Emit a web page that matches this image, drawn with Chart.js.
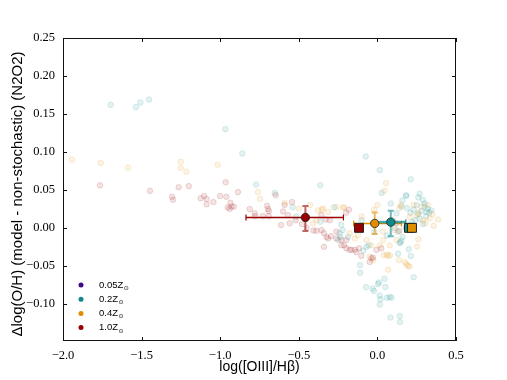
<!DOCTYPE html>
<html><head><meta charset="utf-8">
<script src="https://cdn.jsdelivr.net/npm/chart.js@4/dist/chart.umd.min.js"></script>
<style>html,body{margin:0;padding:0;background:#fff;}canvas{display:block;}</style>
</head><body>
<canvas id="c" width="507" height="380"></canvas>
<script>
// ---------- data ----------
const xTicks = [-2.0, -1.5, -1.0, -0.5, 0.0, 0.5];
const yTicks = [-0.10, -0.05, 0.00, 0.05, 0.10, 0.15, 0.20, 0.25];
const xRange = [-2.0, 0.5];
const yRange = [-0.149, 0.25];

const legendLabels = ['0.05', '0.2', '0.4', '1.0'];
const seriesColors = ['#3f0a8a', '#0e8a8a', '#e08e00', '#990000'];

// faded individual model points, [logOIII/Hb, dlog(O/H)]
const cloud02 = [
  [-1.697,0.162],[-1.536,0.159],[-1.508,0.165],[-1.453,0.169],[-0.967,0.130],[-0.859,0.098],
  [-0.772,0.057],[-0.653,0.046],[-0.539,0.027],[-0.518,0.0145],[-0.363,0.056],[-0.363,0.008],
  [-0.276,0.027],[-0.074,0.094],[0.015,0.076],[0.027,0.046],[0.085,0.032],[0.159,0.036],
  [0.182,0.042],[0.212,0.064],[0.269,0.045],[0.29,0.037],[0.188,0.026],[0.21,0.02],
  [0.23,0.024],[0.25,0.03],[0.26,0.018],[0.28,0.022],[0.30,0.028],[0.31,0.015],[0.32,0.025],
  [0.33,0.020],[0.27,0.012],[0.24,0.010],[0.22,0.008],[0.29,0.005],[0.30,0.032],[0.26,0.040],
  [0.343,0.023],[0.312,0.021],[0.184,0.043],[0.153,0.028],[0.121,0.019],
  [-0.24,-0.007],[-0.235,-0.012],[-0.25,-0.016],[-0.187,-0.012],[-0.07,-0.025],[-0.055,-0.023],
  [-0.09,-0.030],[0.153,-0.017],[0.16,-0.012],[0.145,-0.020],[0.13,-0.005],[0.142,-0.019],
  [0.131,-0.034],[0.199,-0.028],[0.212,-0.037],[0.231,-0.065],[-0.11,-0.049],[-0.11,-0.059],
  [-0.072,-0.078],[-0.022,-0.083],[-0.03,-0.080],[0.004,-0.074],[0.01,-0.072],[0.045,-0.067],
  [0.051,-0.078],[0.015,-0.089],[0.019,-0.094],[0.015,-0.101],[0.06,-0.092],[0.078,-0.091],
  [0.09,-0.092],[0.083,-0.118],[0.142,-0.116],[0.144,-0.124],[0.10,0.010],[0.11,0.000],
  [0.06,-0.010],[-0.02,-0.005],[-0.10,0.010],[-0.23,0.004],[-0.221,-0.003]
];
const cloud04 = [
  [-1.943,0.090],[-1.760,0.0855],[-1.586,0.0795],[-1.251,0.087],[-1.251,0.079],[-1.215,0.074],
  [-1.016,0.083],[-0.760,0.047],[-0.747,0.038],[-0.590,0.033],[-0.499,0.0255],[-0.429,0.030],
  [-0.378,0.023],[-0.354,0.024],[-0.346,0.0255],[-0.314,0.021],[-0.261,0.0276],[-0.219,0.0268],
  [-0.212,0.027],[-0.410,0.006],[-0.388,0.010],[-0.022,0.024],[0.046,0.049],[0.055,0.059],
  [0.148,0.030],[0.14,0.026],[0.205,0.0145],[0.248,0.0167],[0.29,0.010],[0.333,0.0124],
  [0.386,0.011],[0.358,0.0026],[0.305,0.006],[0.26,0.020],[0.23,0.030],[0.28,0.028],[0.32,0.030],
  [0.35,0.018],[-0.176,-0.007],[-0.144,-0.014],[-0.123,-0.0096],[0.11,-0.003],[0.036,-0.005],
  [-0.07,-0.016],[-0.038,-0.023],[0.015,-0.023],[0.036,-0.016],[0.078,-0.023],[0.068,-0.037],
  [0.121,-0.016],[0.137,-0.0425],[0.184,-0.048],[0.205,-0.051],[0.174,-0.045],[0.195,-0.050],
  [0.252,-0.0245],[0.068,-0.055],[-0.028,-0.0425],[-0.049,-0.038],[0.04,-0.036],[0.06,-0.035],
  [0.08,-0.036],[0.0,0.030],[-0.10,0.015],[0.26,-0.015]
];
const cloud10 = [
  [-1.765,0.056],[-1.447,0.0487],[-1.264,0.0535],[-1.200,0.0549],[-1.306,0.041],[-1.300,0.037],
  [-1.124,0.039],[-1.103,0.042],[-1.086,0.038],[-1.086,0.031],[-1.043,0.034],[-1.001,0.042],
  [-0.965,0.060],[-0.961,0.041],[-0.935,0.033],[-0.952,0.027],[-0.928,0.028],[-0.913,0.028],
  [-0.940,0.025],[-0.887,0.047],[-0.812,0.0246],[-0.781,0.0193],[-0.778,0.0154],[-0.728,0.0154],
  [-0.702,0.029],[-0.696,0.0246],[-0.690,0.022],[-0.691,0.0154],[-0.613,0.0036],[-0.600,0.0216],
  [-0.569,0.0167],[-0.543,0.034],[-0.647,0.043],[-0.590,0.030],[-0.558,0.006],[-0.52,0.010],
  [-0.48,0.005],[-0.407,-0.0034],[-0.388,-0.004],[-0.356,0.0167],[-0.329,0.011],[-0.303,0.010],
  [-0.356,-0.003],[-0.34,-0.007],[-0.324,-0.012],[-0.314,-0.014],[-0.295,-0.011],[-0.261,-0.005],
  [-0.261,-0.014],[-0.229,-0.016],[-0.229,-0.023],[-0.212,-0.023],[-0.197,-0.027],[-0.197,-0.016],
  [-0.176,-0.029],[-0.165,-0.029],[-0.144,-0.029],[-0.134,-0.032],[-0.117,-0.027],[-0.102,-0.037],
  [-0.049,-0.045],[-0.038,-0.040],[-0.028,-0.039],[-0.006,-0.029],[0.025,-0.027],[-0.181,0.024],
  [-0.20,0.020],[0.121,0.006],[0.14,-0.004],[0.18,0.000],[-0.34,-0.025],[-0.45,0.000]
];

// summary points (median with error bars): 1.0, 0.4, 0.2 Zsun
const sumX      = [-0.458, -0.017, 0.085];
const sumY      = [0.0137, 0.0058, 0.0075];
const sumXerrLo = [0.378, 0.134, 0.091];
const sumXerrHi = [0.242, 0.170, 0.095];
const sumYerrLo = [0.018, 0.014, 0.0185];
const sumYerrHi = [0.015, 0.0145, 0.015];
const sumColorIdx = [3, 2, 1];
// square markers: 1.0, 0.2, 0.4 Zsun
const sqX = [-0.117, 0.201, 0.220];
const sqY = [0.0, 0.0, 0.0];
const sqColorIdx = [3, 1, 2];

// ---------- helpers ----------
function rgba(hex, a){
  const n = parseInt(hex.slice(1),16);
  return `rgba(${(n>>16)&255},${(n>>8)&255},${n&255},${a})`;
}
function fmt(v, d){ return (Math.abs(v) < 1e-9 ? 0 : v).toFixed(d).replace('-', '\u2212'); }
function pts(arr){ return arr.map(p => ({x:p[0], y:p[1]})); }
function cloudSet(arr, col){
  return { type:'scatter', data: pts(arr), order:3, pointRadius:2.8, pointBorderWidth:0.7,
    backgroundColor: rgba(col,0.11), borderColor: rgba(col,0.2), pointHoverRadius:2.8 };
}

const errPlugin = {
  id:'errbars',
  beforeDatasetDraw(chart, args){
    if (chart.data.datasets[args.index].tag !== 'squares') return;
    const xs = chart.scales.x, ys = chart.scales.y, ctx = chart.ctx;
    ctx.save();
    const cap = 3;
    for (let i = 0; i < sumX.length; i++){
      const col = seriesColors[sumColorIdx[i]];
      const px = xs.getPixelForValue(sumX[i]), py = ys.getPixelForValue(sumY[i]);
      // vertical error bar (lighter)
      const yt = ys.getPixelForValue(sumY[i] + sumYerrHi[i]);
      const yb = ys.getPixelForValue(sumY[i] - sumYerrLo[i]);
      ctx.strokeStyle = rgba(col, 0.6); ctx.lineWidth = 2;
      ctx.beginPath(); ctx.moveTo(px, yt); ctx.lineTo(px, yb);
      ctx.moveTo(px-cap, yt); ctx.lineTo(px+cap, yt);
      ctx.moveTo(px-cap, yb); ctx.lineTo(px+cap, yb); ctx.stroke();
      // horizontal error bar
      const xl = xs.getPixelForValue(sumX[i] - sumXerrLo[i]);
      const xr = xs.getPixelForValue(sumX[i] + sumXerrHi[i]);
      const teal = sumColorIdx[i] === 1;
      ctx.strokeStyle = teal ? rgba(col, 0.75) : col; ctx.lineWidth = teal ? 2.6 : 1.4;
      ctx.beginPath(); ctx.moveTo(xl, py); ctx.lineTo(xr, py); ctx.stroke();
      ctx.lineWidth = teal ? 1.6 : 1.2;
      ctx.beginPath();
      ctx.moveTo(xl, py-cap); ctx.lineTo(xl, py+cap);
      ctx.moveTo(xr, py-cap); ctx.lineTo(xr, py+cap); ctx.stroke();
    }
    ctx.restore();
  },
  afterDraw(chart){
    const {ctx, chartArea:a, scales:{x:xs, y:ys}} = chart;
    ctx.save();
    // frame
    ctx.strokeStyle = '#111'; ctx.lineWidth = 1;
    ctx.strokeRect(a.left+0.5, a.top+0.5, a.right-a.left-1, a.bottom-a.top-1);
    // inward ticks on all sides
    const tl = 4;
    ctx.beginPath();
    xTicks.forEach(v => { const p = Math.round(xs.getPixelForValue(v))+0.5;
      ctx.moveTo(p, a.bottom); ctx.lineTo(p, a.bottom-tl);
      ctx.moveTo(p, a.top); ctx.lineTo(p, a.top+tl); });
    yTicks.forEach(v => { const p = Math.round(ys.getPixelForValue(v))+0.5;
      ctx.moveTo(a.left, p); ctx.lineTo(a.left+tl, p);
      ctx.moveTo(a.right, p); ctx.lineTo(a.right-tl, p); });
    ctx.stroke();
    // axis titles
    ctx.fillStyle = '#000';
    ctx.font = '14px "Liberation Sans", Arial, sans-serif';
    ctx.textAlign = 'center'; ctx.textBaseline = 'middle';
    ctx.fillText('log([OIII]/H\u03B2)', (a.left+a.right)/2, 367);
    ctx.save();
    ctx.translate(18, 194); ctx.rotate(-Math.PI/2);
    ctx.font = '15px "Liberation Sans", Arial, sans-serif';
    ctx.fillText('\u0394log(O/H) (model - non-stochastic) (N2O2)', 0, 0);
    ctx.restore();
    // legend
    const lx = 81, ly0 = 285, dy = 14.2;
    legendLabels.forEach((lab, i) => {
      const y = ly0 + i*dy;
      ctx.fillStyle = seriesColors[i];
      ctx.beginPath(); ctx.arc(lx, y, 2.5, 0, Math.PI*2); ctx.fill();
      ctx.fillStyle = '#000'; ctx.textAlign = 'left'; ctx.textBaseline = 'middle';
      ctx.font = '9.5px "Liberation Sans", Arial, sans-serif';
      const t = lab + 'Z';
      ctx.fillText(t, 99, y);
      const w = ctx.measureText(t).width;
      ctx.font = '6px "DejaVu Sans", sans-serif';
      ctx.fillText('\u2299', 99 + w + 0.5, y + 3.5);
    });
    ctx.restore();
  }
};

new Chart(document.getElementById('c'), {
  type: 'scatter',
  data: { datasets: [
    { type:'scatter', tag:'summary', order:1,
      data: sumX.map((x,i)=>({x, y:sumY[i]})),
      pointRadius:4.2, pointBorderWidth:0.8, pointBorderColor:'#222',
      pointBackgroundColor: sumColorIdx.map(k=>seriesColors[k]), pointHoverRadius:4.2 },
    { type:'scatter', tag:'squares', order:2,
      data: sqX.map((x,i)=>({x, y:sqY[i]})),
      pointStyle:'rect', pointRadius:6.3, pointBorderWidth:1, pointBorderColor:'#222',
      pointBackgroundColor: sqColorIdx.map(k=>seriesColors[k]), pointHoverRadius:6.3 },
    cloudSet(cloud10, seriesColors[3]),
    cloudSet(cloud04, seriesColors[2]),
    cloudSet(cloud02, seriesColors[1])
  ]},
  options: {
    responsive:false, animation:false, devicePixelRatio:1,
    layout:{ padding:{ left:0, top:38, right:51, bottom:0 } },
    plugins:{ legend:{display:false}, tooltip:{enabled:false} },
    events: [],
    scales:{
      x:{ type:'linear', min:xRange[0], max:xRange[1],
        afterBuildTicks: s => { s.ticks = xTicks.map(v=>({value:v})); },
        afterFit: s => { s.height = 39; },
        grid:{ display:false, drawTicks:false }, border:{ display:false },
        ticks:{ padding:7, color:'#000', font:{ family:'"Liberation Serif", serif', size:12.5 },
          callback: v => fmt(v,1), maxRotation:0, autoSkip:false } },
      y:{ type:'linear', min:yRange[0], max:yRange[1],
        afterBuildTicks: s => { s.ticks = yTicks.map(v=>({value:v})); },
        afterFit: s => { s.width = 63; },
        grid:{ display:false, drawTicks:false }, border:{ display:false },
        ticks:{ padding:8, color:'#000', font:{ family:'"Liberation Serif", serif', size:12.5 },
          callback: v => fmt(v,2), autoSkip:false } }
    }
  },
  plugins:[errPlugin]
});
</script>
</body></html>
